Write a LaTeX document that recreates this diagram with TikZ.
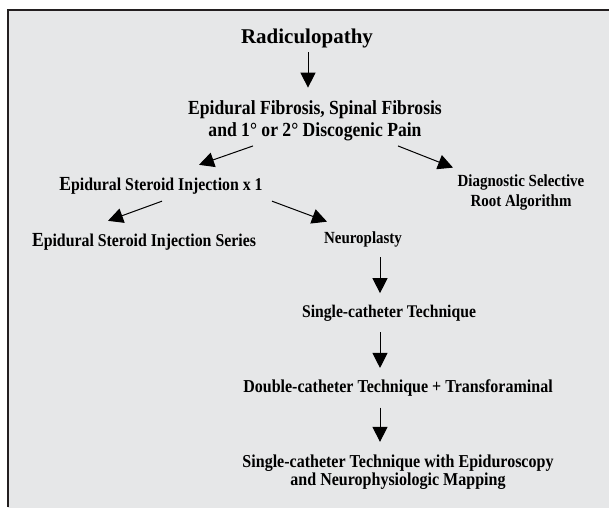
\documentclass[tikz,border=0pt]{standalone}
\usepackage{fontspec}
\setmainfont{Liberation Serif}
\newfontfamily\narrowrm[FakeStretch=0.88]{Liberation Serif}
\usetikzlibrary{arrows.meta}
\definecolor{panel}{RGB}{230,231,232}
\definecolor{frame}{RGB}{35,31,32}
\newcommand{\bigE}{{\fontsize{20}{20}\selectfont E}}
\begin{document}
\begin{tikzpicture}[x=1pt,y=-1pt,
  lbl/.style={inner sep=0pt,align=center,font=\narrowrm\bfseries\fontsize{#1}{#1}\selectfont},
  lbl/.default=18,
  arr/.style={line width=1pt,-{Triangle[length=15pt,width=15pt]}}]
  \useasboundingbox (0,0) rectangle (609,508);
  \fill [panel] (8,10) rectangle (609,508);
  \draw [frame,line width=2pt] (8,507) -- (8,10) -- (609,10);
  % labels
  \node [inner sep=0pt,font=\bfseries\fontsize{21}{21}\selectfont] (rad) at (307,38) {Radiculopathy};
  \node [lbl=20] (ef) at (315,121) {Epidural Fibrosis, Spinal Fibrosis\\[2pt] and 1° or 2° Discogenic Pain};
  \node [lbl] (esi) at (161,185.5) {\bigE pidural Steroid Injection x 1};
  \node [lbl=17] (diag) at (521,192) {Diagnostic Selective\\[3pt] Root Algorithm};
  \node [lbl] (series) at (144,241.5) {\bigE pidural Steroid Injection Series};
  \node [lbl=17] (neuro) at (363,239) {Neuroplasty};
  \node [lbl=17.8] (single) at (389,313) {Single-catheter Technique};
  \node [lbl=18.2] (double) at (398,388) {Double-catheter Technique + Transforaminal};
  \node [lbl=18.2] (mapping) at (398,472.5) {Single-catheter Technique with Epiduroscopy\\ and Neurophysiologic Mapping};
  % arrows
  \draw [arr,shorten <=4.4pt,shorten >=13pt] ([xshift=1pt]rad.south) -- ([xshift=1pt]rad.south |- ef.north);
  \draw [arr] ([xshift=-62pt,yshift=-4.6pt]ef.south) -- ([xshift=38pt,yshift=12pt]esi.north);
  \draw [arr] ([xshift=83pt,yshift=-4.6pt]ef.south) -- ([xshift=-68pt,yshift=6.4pt]diag.north);
  \draw [arr] ([xshift=1pt,yshift=-7pt]esi.south) -- ([xshift=-36pt,yshift=12pt]series.north);
  \draw [arr] ([xshift=111pt,yshift=-7pt]esi.south) -- ([xshift=-36pt,yshift=9.4pt]neuro.north);
  \draw [arr] ([xshift=17pt,yshift=-10.3pt]neuro.south) -- ([xshift=-9pt,yshift=11.5pt]single.north);
  \draw [arr] ([xshift=-9pt,yshift=-11pt]single.south) -- ([xshift=-18pt,yshift=11.5pt]double.north);
  \draw [arr] ([xshift=-18pt,yshift=-11pt]double.south) -- ([xshift=-18pt,yshift=13pt]mapping.north);
\end{tikzpicture}
\end{document}
